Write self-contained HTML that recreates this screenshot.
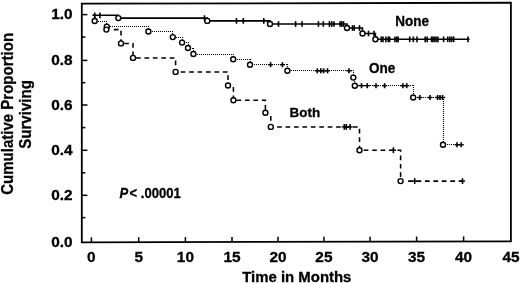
<!DOCTYPE html>
<html><head><meta charset="utf-8"><style>
html,body{margin:0;padding:0;background:#fff;}
svg{display:block;will-change:transform;}
text{font-family:"Liberation Sans", sans-serif;font-weight:bold;fill:#000;stroke:#000;stroke-width:0.3px;}
</style></head><body>
<svg width="520" height="283" viewBox="0 0 520 283">
<path d="M81.8 3.72 L510.9 2.75 L510.9 241.3 L81.8 242.3 Z" fill="none" stroke="#000" stroke-width="1.8" stroke-linejoin="miter"/><line x1="81.8" y1="14.6" x2="87.4" y2="14.6" stroke="#000" stroke-width="1.5"/><line x1="81.8" y1="37.1" x2="85.4" y2="37.1" stroke="#000" stroke-width="1.5"/><line x1="81.8" y1="60.4" x2="87.4" y2="60.4" stroke="#000" stroke-width="1.5"/><line x1="81.8" y1="82.7" x2="85.4" y2="82.7" stroke="#000" stroke-width="1.5"/><line x1="81.8" y1="105.0" x2="87.4" y2="105.0" stroke="#000" stroke-width="1.5"/><line x1="81.8" y1="127.6" x2="85.4" y2="127.6" stroke="#000" stroke-width="1.5"/><line x1="81.8" y1="150.3" x2="87.4" y2="150.3" stroke="#000" stroke-width="1.5"/><line x1="81.8" y1="172.8" x2="85.4" y2="172.8" stroke="#000" stroke-width="1.5"/><line x1="81.8" y1="195.3" x2="87.4" y2="195.3" stroke="#000" stroke-width="1.5"/><line x1="81.8" y1="217.6" x2="85.4" y2="217.6" stroke="#000" stroke-width="1.5"/><line x1="91.4" y1="242.28" x2="91.4" y2="237.28" stroke="#000" stroke-width="1.5"/><line x1="138.7" y1="242.17" x2="138.7" y2="237.17" stroke="#000" stroke-width="1.5"/><line x1="185.4" y1="242.06" x2="185.4" y2="237.06" stroke="#000" stroke-width="1.5"/><line x1="232.0" y1="241.95" x2="232.0" y2="236.95" stroke="#000" stroke-width="1.5"/><line x1="278.0" y1="241.84" x2="278.0" y2="236.84" stroke="#000" stroke-width="1.5"/><line x1="323.9" y1="241.74" x2="323.9" y2="236.74" stroke="#000" stroke-width="1.5"/><line x1="370.1" y1="241.63" x2="370.1" y2="236.63" stroke="#000" stroke-width="1.5"/><line x1="416.6" y1="241.52" x2="416.6" y2="236.52" stroke="#000" stroke-width="1.5"/><line x1="463.6" y1="241.41" x2="463.6" y2="236.41" stroke="#000" stroke-width="1.5"/><path d="M92.6 15.3 H94.7 V21" fill="none" stroke="#000" stroke-width="1.4"/><path d="M106.4 29.6 H121.0 V43.4" fill="none" stroke="#000" stroke-width="1.55" stroke-dasharray="0 7.4 4.7 3.73 4.7 3.73 4.7 3.73 4.7 3.73 4.7 3.73 4.7 3.73 4.7 3.73 4.7 3.73 4.7 3.73 4.7 3.73 4.7 3.73 4.7 3.73 4.7 3.73 4.7 3.73"/><path d="M121.0 43.4 H133.0 V57.9" fill="none" stroke="#000" stroke-width="1.55" stroke-dasharray="0 3.2 4.7 3.73 4.7 3.73 4.7 3.73 4.7 3.73 4.7 3.73 4.7 3.73 4.7 3.73 4.7 3.73 4.7 3.73 4.7 3.73 4.7 3.73 4.7 3.73 4.7 3.73 4.7 3.73"/><path d="M133.0 57.9 H175.6 V71.9" fill="none" stroke="#000" stroke-width="1.55" stroke-dasharray="0 3.0 4.7 3.73 4.7 3.73 4.7 3.73 4.7 3.73 4.7 3.73 4.7 3.73 4.7 3.73 4.7 3.73 4.7 3.73 4.7 3.73 4.7 3.73 4.7 3.73 4.7 3.73 4.7 3.73"/><path d="M175.6 71.9 H228.0 V85.5" fill="none" stroke="#000" stroke-width="1.55" stroke-dasharray="0 5.1 4.7 3.73 4.7 3.73 4.7 3.73 4.7 3.73 4.7 3.73 4.7 3.73 4.7 3.73 4.7 3.73 4.7 3.73 4.7 3.73 4.7 3.73 4.7 3.73 4.7 3.73 4.7 3.73"/><path d="M228.0 85.5 H233.4 V100.2" fill="none" stroke="#000" stroke-width="1.55" stroke-dasharray="0 6.9 4.7 3.73 4.7 3.73 4.7 3.73 4.7 3.73 4.7 3.73 4.7 3.73 4.7 3.73 4.7 3.73 4.7 3.73 4.7 3.73 4.7 3.73 4.7 3.73 4.7 3.73 4.7 3.73"/><path d="M233.4 100.2 H265.4 V112.7" fill="none" stroke="#000" stroke-width="1.55" stroke-dasharray="0 3.1 4.7 3.73 4.7 3.73 4.7 3.73 4.7 3.73 4.7 3.73 4.7 3.73 4.7 3.73 4.7 3.73 4.7 3.73 4.7 3.73 4.7 3.73 4.7 3.73 4.7 3.73 4.7 3.73"/><path d="M265.4 112.7 H270.8 V126.9" fill="none" stroke="#000" stroke-width="1.55" stroke-dasharray="0 8.7 4.7 3.73 4.7 3.73 4.7 3.73 4.7 3.73 4.7 3.73 4.7 3.73 4.7 3.73 4.7 3.73 4.7 3.73 4.7 3.73 4.7 3.73 4.7 3.73 4.7 3.73 4.7 3.73"/><path d="M270.8 126.9 H359.5 V150.2" fill="none" stroke="#000" stroke-width="1.55" stroke-dasharray="0 6.3 4.7 3.73 4.7 3.73 4.7 3.73 4.7 3.73 4.7 3.73 4.7 3.73 4.7 3.73 4.7 3.73 4.7 3.73 4.7 3.73 4.7 3.73 4.7 3.73 4.7 3.73 4.7 3.73"/><path d="M359.5 150.2 H400.6 V181.1" fill="none" stroke="#000" stroke-width="1.55" stroke-dasharray="0 4.2 4.7 3.73 4.7 3.73 4.7 3.73 4.7 3.73 4.7 3.73 4.7 3.73 4.7 3.73 4.7 3.73 4.7 3.73 4.7 3.73 4.7 3.73 4.7 3.73 4.7 3.73 4.7 3.73"/><path d="M400.6 181.1 H462.5" fill="none" stroke="#000" stroke-width="1.55" stroke-dasharray="0 7.5 4.7 3.73 4.7 3.73 4.7 3.73 4.7 3.73 4.7 3.73 4.7 3.73 4.7 3.73 4.7 3.73 4.7 3.73 4.7 3.73 4.7 3.73 4.7 3.73 4.7 3.73 4.7 3.73"/><path d="M94 21.5 H106.8" fill="none" stroke="#000" stroke-width="1.1" stroke-dasharray="1 1"/><path d="M106.5 21 V26.6" fill="none" stroke="#000" stroke-width="1.1" stroke-dasharray="1 1"/><path d="M106 26.5 H148.4" fill="none" stroke="#000" stroke-width="1.1" stroke-dasharray="1 1"/><path d="M148.5 26 V31.5" fill="none" stroke="#000" stroke-width="1.1" stroke-dasharray="1 1"/><path d="M148 31.5 H172.8" fill="none" stroke="#000" stroke-width="1.1" stroke-dasharray="1 1"/><path d="M172.5 31 V37.1" fill="none" stroke="#000" stroke-width="1.1" stroke-dasharray="1 1"/><path d="M172 37.5 H182.1" fill="none" stroke="#000" stroke-width="1.1" stroke-dasharray="1 1"/><path d="M182.5 37 V42.6" fill="none" stroke="#000" stroke-width="1.1" stroke-dasharray="1 1"/><path d="M182 42.5 H188.0" fill="none" stroke="#000" stroke-width="1.1" stroke-dasharray="1 1"/><path d="M188.5 42 V48.0" fill="none" stroke="#000" stroke-width="1.1" stroke-dasharray="1 1"/><path d="M188 48.5 H193.4" fill="none" stroke="#000" stroke-width="1.1" stroke-dasharray="1 1"/><path d="M193.5 48 V54.0" fill="none" stroke="#000" stroke-width="1.1" stroke-dasharray="1 1"/><path d="M193 54.5 H233.2" fill="none" stroke="#000" stroke-width="1.1" stroke-dasharray="1 1"/><path d="M233.5 54 V59.3" fill="none" stroke="#000" stroke-width="1.1" stroke-dasharray="1 1"/><path d="M233 59.5 H250.0" fill="none" stroke="#000" stroke-width="1.1" stroke-dasharray="1 1"/><path d="M250.5 59 V64.7" fill="none" stroke="#000" stroke-width="1.1" stroke-dasharray="1 1"/><path d="M250 64.5 H287.4" fill="none" stroke="#000" stroke-width="1.1" stroke-dasharray="1 1"/><path d="M287.5 64 V70.8" fill="none" stroke="#000" stroke-width="1.1" stroke-dasharray="1 1"/><path d="M287 70.5 H353.3" fill="none" stroke="#000" stroke-width="1.1" stroke-dasharray="1 1"/><path d="M353.5 70 V77.6" fill="none" stroke="#000" stroke-width="1.1" stroke-dasharray="1 1"/><path d="M353 77.5 H354.8" fill="none" stroke="#000" stroke-width="1.1" stroke-dasharray="1 1"/><path d="M354.5 77 V85.7" fill="none" stroke="#000" stroke-width="1.1" stroke-dasharray="1 1"/><path d="M354 85.5 H413.2" fill="none" stroke="#000" stroke-width="1.1" stroke-dasharray="1 1"/><path d="M413.5 85 V97.5" fill="none" stroke="#000" stroke-width="1.1" stroke-dasharray="1 1"/><path d="M413 97.5 H443.0" fill="none" stroke="#000" stroke-width="1.1" stroke-dasharray="1 1"/><path d="M443.5 97 V144.8" fill="none" stroke="#000" stroke-width="1.1" stroke-dasharray="1 1"/><path d="M443 144.5 H462" fill="none" stroke="#000" stroke-width="1.1" stroke-dasharray="1 1"/><path d="M92.6 15.3 H118.3 V18.1 H207.3 V20.9 H270.0 V24.0 H347.0 V28.0 H362.5 V33.5 H375.4 V39.3 H469.6" fill="none" stroke="#000" stroke-width="1.6"/><line x1="94.7" y1="12.45" x2="94.7" y2="18.15" stroke="#000" stroke-width="1.6"/><line x1="99.9" y1="12.45" x2="99.9" y2="18.15" stroke="#000" stroke-width="1.6"/><line x1="204.5" y1="15.25" x2="204.5" y2="20.95" stroke="#000" stroke-width="1.6"/><line x1="236.5" y1="18.05" x2="236.5" y2="23.75" stroke="#000" stroke-width="1.6"/><line x1="243.3" y1="18.05" x2="243.3" y2="23.75" stroke="#000" stroke-width="1.6"/><line x1="263.8" y1="18.05" x2="263.8" y2="23.75" stroke="#000" stroke-width="1.6"/><line x1="278.5" y1="21.15" x2="278.5" y2="26.85" stroke="#000" stroke-width="1.6"/><line x1="295.6" y1="21.15" x2="295.6" y2="26.85" stroke="#000" stroke-width="1.6"/><line x1="302.1" y1="21.15" x2="302.1" y2="26.85" stroke="#000" stroke-width="1.6"/><line x1="318.4" y1="21.15" x2="318.4" y2="26.85" stroke="#000" stroke-width="1.6"/><line x1="323.3" y1="21.15" x2="323.3" y2="26.85" stroke="#000" stroke-width="1.6"/><line x1="329.4" y1="21.15" x2="329.4" y2="26.85" stroke="#000" stroke-width="1.6"/><line x1="331.7" y1="21.15" x2="331.7" y2="26.85" stroke="#000" stroke-width="1.6"/><line x1="334.0" y1="21.15" x2="334.0" y2="26.85" stroke="#000" stroke-width="1.6"/><line x1="340.1" y1="21.15" x2="340.1" y2="26.85" stroke="#000" stroke-width="1.6"/><line x1="341.7" y1="21.15" x2="341.7" y2="26.85" stroke="#000" stroke-width="1.6"/><line x1="343.5" y1="21.15" x2="343.5" y2="26.85" stroke="#000" stroke-width="1.6"/><line x1="352.5" y1="25.15" x2="352.5" y2="30.85" stroke="#000" stroke-width="1.6"/><line x1="354.2" y1="25.15" x2="354.2" y2="30.85" stroke="#000" stroke-width="1.6"/><line x1="359.5" y1="25.15" x2="359.5" y2="30.85" stroke="#000" stroke-width="1.6"/><line x1="368.5" y1="30.65" x2="368.5" y2="36.35" stroke="#000" stroke-width="1.6"/><line x1="374.0" y1="30.65" x2="374.0" y2="36.35" stroke="#000" stroke-width="1.6"/><line x1="381.3" y1="36.45" x2="381.3" y2="42.15" stroke="#000" stroke-width="1.6"/><line x1="383.0" y1="36.45" x2="383.0" y2="42.15" stroke="#000" stroke-width="1.6"/><line x1="385.8" y1="36.45" x2="385.8" y2="42.15" stroke="#000" stroke-width="1.6"/><line x1="388.2" y1="36.45" x2="388.2" y2="42.15" stroke="#000" stroke-width="1.6"/><line x1="389.6" y1="36.45" x2="389.6" y2="42.15" stroke="#000" stroke-width="1.6"/><line x1="394.9" y1="36.45" x2="394.9" y2="42.15" stroke="#000" stroke-width="1.6"/><line x1="396.8" y1="36.45" x2="396.8" y2="42.15" stroke="#000" stroke-width="1.6"/><line x1="398.1" y1="36.45" x2="398.1" y2="42.15" stroke="#000" stroke-width="1.6"/><line x1="409.7" y1="36.45" x2="409.7" y2="42.15" stroke="#000" stroke-width="1.6"/><line x1="413.3" y1="36.45" x2="413.3" y2="42.15" stroke="#000" stroke-width="1.6"/><line x1="417.0" y1="36.45" x2="417.0" y2="42.15" stroke="#000" stroke-width="1.6"/><line x1="425.2" y1="36.45" x2="425.2" y2="42.15" stroke="#000" stroke-width="1.6"/><line x1="427.2" y1="36.45" x2="427.2" y2="42.15" stroke="#000" stroke-width="1.6"/><line x1="431.5" y1="36.45" x2="431.5" y2="42.15" stroke="#000" stroke-width="1.6"/><line x1="432.9" y1="36.45" x2="432.9" y2="42.15" stroke="#000" stroke-width="1.6"/><line x1="434.4" y1="36.45" x2="434.4" y2="42.15" stroke="#000" stroke-width="1.6"/><line x1="436.1" y1="36.45" x2="436.1" y2="42.15" stroke="#000" stroke-width="1.6"/><line x1="437.9" y1="36.45" x2="437.9" y2="42.15" stroke="#000" stroke-width="1.6"/><line x1="443.6" y1="36.45" x2="443.6" y2="42.15" stroke="#000" stroke-width="1.6"/><line x1="447.7" y1="36.45" x2="447.7" y2="42.15" stroke="#000" stroke-width="1.6"/><line x1="449.8" y1="36.45" x2="449.8" y2="42.15" stroke="#000" stroke-width="1.6"/><line x1="451.7" y1="36.45" x2="451.7" y2="42.15" stroke="#000" stroke-width="1.6"/><line x1="453.7" y1="36.45" x2="453.7" y2="42.15" stroke="#000" stroke-width="1.6"/><line x1="468.0" y1="36.45" x2="468.0" y2="42.15" stroke="#000" stroke-width="1.6"/><line x1="270.6" y1="62.15" x2="270.6" y2="67.25" stroke="#000" stroke-width="1.6"/><line x1="268.00" y1="64.7" x2="273.20" y2="64.7" stroke="#000" stroke-width="1.4"/><line x1="282.4" y1="62.15" x2="282.4" y2="67.25" stroke="#000" stroke-width="1.6"/><line x1="279.80" y1="64.7" x2="285.00" y2="64.7" stroke="#000" stroke-width="1.4"/><line x1="317.3" y1="68.25" x2="317.3" y2="73.35" stroke="#000" stroke-width="1.6"/><line x1="314.70" y1="70.8" x2="319.90" y2="70.8" stroke="#000" stroke-width="1.4"/><line x1="320.8" y1="68.25" x2="320.8" y2="73.35" stroke="#000" stroke-width="1.6"/><line x1="318.20" y1="70.8" x2="323.40" y2="70.8" stroke="#000" stroke-width="1.4"/><line x1="323.6" y1="68.25" x2="323.6" y2="73.35" stroke="#000" stroke-width="1.6"/><line x1="321.00" y1="70.8" x2="326.20" y2="70.8" stroke="#000" stroke-width="1.4"/><line x1="327.5" y1="68.25" x2="327.5" y2="73.35" stroke="#000" stroke-width="1.6"/><line x1="324.90" y1="70.8" x2="330.10" y2="70.8" stroke="#000" stroke-width="1.4"/><line x1="349.0" y1="68.25" x2="349.0" y2="73.35" stroke="#000" stroke-width="1.6"/><line x1="346.40" y1="70.8" x2="351.60" y2="70.8" stroke="#000" stroke-width="1.4"/><line x1="361.5" y1="83.15" x2="361.5" y2="88.25" stroke="#000" stroke-width="1.6"/><line x1="358.90" y1="85.7" x2="364.10" y2="85.7" stroke="#000" stroke-width="1.4"/><line x1="367.2" y1="83.15" x2="367.2" y2="88.25" stroke="#000" stroke-width="1.6"/><line x1="364.60" y1="85.7" x2="369.80" y2="85.7" stroke="#000" stroke-width="1.4"/><line x1="376.0" y1="83.15" x2="376.0" y2="88.25" stroke="#000" stroke-width="1.6"/><line x1="373.40" y1="85.7" x2="378.60" y2="85.7" stroke="#000" stroke-width="1.4"/><line x1="384.6" y1="83.15" x2="384.6" y2="88.25" stroke="#000" stroke-width="1.6"/><line x1="382.00" y1="85.7" x2="387.20" y2="85.7" stroke="#000" stroke-width="1.4"/><line x1="402.9" y1="83.15" x2="402.9" y2="88.25" stroke="#000" stroke-width="1.6"/><line x1="400.30" y1="85.7" x2="405.50" y2="85.7" stroke="#000" stroke-width="1.4"/><line x1="406.7" y1="83.15" x2="406.7" y2="88.25" stroke="#000" stroke-width="1.6"/><line x1="404.10" y1="85.7" x2="409.30" y2="85.7" stroke="#000" stroke-width="1.4"/><line x1="419.8" y1="94.95" x2="419.8" y2="100.05" stroke="#000" stroke-width="1.6"/><line x1="417.20" y1="97.5" x2="422.40" y2="97.5" stroke="#000" stroke-width="1.4"/><line x1="430.0" y1="94.95" x2="430.0" y2="100.05" stroke="#000" stroke-width="1.6"/><line x1="427.40" y1="97.5" x2="432.60" y2="97.5" stroke="#000" stroke-width="1.4"/><line x1="437.6" y1="94.95" x2="437.6" y2="100.05" stroke="#000" stroke-width="1.6"/><line x1="435.00" y1="97.5" x2="440.20" y2="97.5" stroke="#000" stroke-width="1.4"/><line x1="440.0" y1="94.95" x2="440.0" y2="100.05" stroke="#000" stroke-width="1.6"/><line x1="437.40" y1="97.5" x2="442.60" y2="97.5" stroke="#000" stroke-width="1.4"/><line x1="442.6" y1="94.95" x2="442.6" y2="100.05" stroke="#000" stroke-width="1.6"/><line x1="440.00" y1="97.5" x2="445.20" y2="97.5" stroke="#000" stroke-width="1.4"/><line x1="457.0" y1="142.25" x2="457.0" y2="147.35" stroke="#000" stroke-width="1.6"/><line x1="454.40" y1="144.8" x2="459.60" y2="144.8" stroke="#000" stroke-width="1.4"/><line x1="461.2" y1="142.25" x2="461.2" y2="147.35" stroke="#000" stroke-width="1.6"/><line x1="458.60" y1="144.8" x2="463.80" y2="144.8" stroke="#000" stroke-width="1.4"/><line x1="344.3" y1="124.00" x2="344.3" y2="129.80" stroke="#000" stroke-width="1.6"/><line x1="341.70" y1="126.9" x2="346.90" y2="126.9" stroke="#000" stroke-width="1.4"/><line x1="346.3" y1="124.00" x2="346.3" y2="129.80" stroke="#000" stroke-width="1.6"/><line x1="343.70" y1="126.9" x2="348.90" y2="126.9" stroke="#000" stroke-width="1.4"/><line x1="350.1" y1="124.00" x2="350.1" y2="129.80" stroke="#000" stroke-width="1.6"/><line x1="347.50" y1="126.9" x2="352.70" y2="126.9" stroke="#000" stroke-width="1.4"/><line x1="393.4" y1="147.30" x2="393.4" y2="153.10" stroke="#000" stroke-width="1.6"/><line x1="390.80" y1="150.2" x2="396.00" y2="150.2" stroke="#000" stroke-width="1.4"/><line x1="414.7" y1="178.20" x2="414.7" y2="184.00" stroke="#000" stroke-width="1.6"/><line x1="412.10" y1="181.1" x2="417.30" y2="181.1" stroke="#000" stroke-width="1.4"/><line x1="462.5" y1="178.20" x2="462.5" y2="184.00" stroke="#000" stroke-width="1.6"/><line x1="459.90" y1="181.1" x2="465.10" y2="181.1" stroke="#000" stroke-width="1.4"/><circle cx="118.3" cy="18.1" r="2.5" fill="#fff" stroke="#000" stroke-width="1.4"/><circle cx="207.3" cy="20.9" r="2.5" fill="#fff" stroke="#000" stroke-width="1.4"/><circle cx="270.0" cy="24.0" r="2.5" fill="#fff" stroke="#000" stroke-width="1.4"/><circle cx="347.0" cy="28.0" r="2.5" fill="#fff" stroke="#000" stroke-width="1.4"/><circle cx="362.5" cy="33.5" r="2.5" fill="#fff" stroke="#000" stroke-width="1.4"/><circle cx="375.4" cy="39.3" r="2.5" fill="#fff" stroke="#000" stroke-width="1.4"/><circle cx="94.7" cy="21.0" r="2.5" fill="#fff" stroke="#000" stroke-width="1.4"/><circle cx="106.8" cy="26.6" r="2.5" fill="#fff" stroke="#000" stroke-width="1.4"/><circle cx="148.4" cy="31.5" r="2.5" fill="#fff" stroke="#000" stroke-width="1.4"/><circle cx="172.8" cy="37.1" r="2.5" fill="#fff" stroke="#000" stroke-width="1.4"/><circle cx="182.1" cy="42.6" r="2.5" fill="#fff" stroke="#000" stroke-width="1.4"/><circle cx="188.0" cy="48.0" r="2.5" fill="#fff" stroke="#000" stroke-width="1.4"/><circle cx="193.4" cy="54.0" r="2.5" fill="#fff" stroke="#000" stroke-width="1.4"/><circle cx="233.2" cy="59.3" r="2.5" fill="#fff" stroke="#000" stroke-width="1.4"/><circle cx="250.0" cy="64.7" r="2.5" fill="#fff" stroke="#000" stroke-width="1.4"/><circle cx="287.4" cy="70.8" r="2.5" fill="#fff" stroke="#000" stroke-width="1.4"/><circle cx="353.3" cy="77.6" r="2.5" fill="#fff" stroke="#000" stroke-width="1.4"/><circle cx="354.8" cy="85.7" r="2.5" fill="#fff" stroke="#000" stroke-width="1.4"/><circle cx="413.2" cy="97.5" r="2.5" fill="#fff" stroke="#000" stroke-width="1.4"/><circle cx="443.0" cy="144.8" r="2.5" fill="#fff" stroke="#000" stroke-width="1.4"/><circle cx="106.4" cy="29.6" r="2.5" fill="#fff" stroke="#000" stroke-width="1.4"/><circle cx="121.0" cy="43.4" r="2.5" fill="#fff" stroke="#000" stroke-width="1.4"/><circle cx="133.0" cy="57.9" r="2.5" fill="#fff" stroke="#000" stroke-width="1.4"/><circle cx="175.6" cy="71.9" r="2.5" fill="#fff" stroke="#000" stroke-width="1.4"/><circle cx="228.0" cy="85.5" r="2.5" fill="#fff" stroke="#000" stroke-width="1.4"/><circle cx="233.4" cy="100.2" r="2.5" fill="#fff" stroke="#000" stroke-width="1.4"/><circle cx="265.4" cy="112.7" r="2.5" fill="#fff" stroke="#000" stroke-width="1.4"/><circle cx="270.8" cy="126.9" r="2.5" fill="#fff" stroke="#000" stroke-width="1.4"/><circle cx="359.5" cy="150.2" r="2.5" fill="#fff" stroke="#000" stroke-width="1.4"/><circle cx="400.6" cy="181.1" r="2.5" fill="#fff" stroke="#000" stroke-width="1.4"/>
<text x="72.6" y="19.0" font-size="15.4" text-anchor="end" >1.0</text><text x="72.6" y="64.6" font-size="15.4" text-anchor="end" >0.8</text><text x="72.6" y="110.0" font-size="15.4" text-anchor="end" >0.6</text><text x="72.6" y="154.7" font-size="15.4" text-anchor="end" >0.4</text><text x="72.6" y="199.6" font-size="15.4" text-anchor="end" >0.2</text><text x="72.6" y="247.0" font-size="15.4" text-anchor="end" >0.0</text><text x="91.4" y="262.3" font-size="15.4" text-anchor="middle" >0</text><text x="138.7" y="262.3" font-size="15.4" text-anchor="middle" >5</text><text x="185.4" y="262.3" font-size="15.4" text-anchor="middle" >10</text><text x="232.0" y="262.3" font-size="15.4" text-anchor="middle" >15</text><text x="278.0" y="262.3" font-size="15.4" text-anchor="middle" >20</text><text x="323.9" y="262.3" font-size="15.4" text-anchor="middle" >25</text><text x="370.1" y="262.3" font-size="15.4" text-anchor="middle" >30</text><text x="416.6" y="262.3" font-size="15.4" text-anchor="middle" >35</text><text x="463.6" y="262.3" font-size="15.4" text-anchor="middle" >40</text><text x="511.0" y="262.3" font-size="15.4" text-anchor="middle" >45</text><text x="296.8" y="281.8" font-size="15.4" text-anchor="middle" textLength="109.3" lengthAdjust="spacingAndGlyphs">Time in Months</text><text x="395.2" y="26.3" font-size="13.8" text-anchor="start" textLength="33.75" lengthAdjust="spacingAndGlyphs">None</text><text x="369.0" y="73.2" font-size="13.8" text-anchor="start" textLength="26.3" lengthAdjust="spacingAndGlyphs">One</text><text x="289.6" y="116.9" font-size="13.7" text-anchor="start" textLength="30.6" lengthAdjust="spacingAndGlyphs">Both</text><g transform="translate(119.6 198.1) scale(0.913 1)"><text x="0" y="0" font-size="14.3" font-style="italic">P</text><text x="10.9" y="0" font-size="14.3">&lt;</text><text x="23.2" y="0" font-size="14.3">.00001</text></g><text transform="translate(13.4 113.9) rotate(-90)" font-size="15.7" text-anchor="middle" textLength="161.9" lengthAdjust="spacingAndGlyphs">Cumulative Proportion</text><text transform="translate(31.4 114.45) rotate(-90)" font-size="15.7" text-anchor="middle" textLength="68.7" lengthAdjust="spacingAndGlyphs">Surviving</text>
</svg>
</body></html>
